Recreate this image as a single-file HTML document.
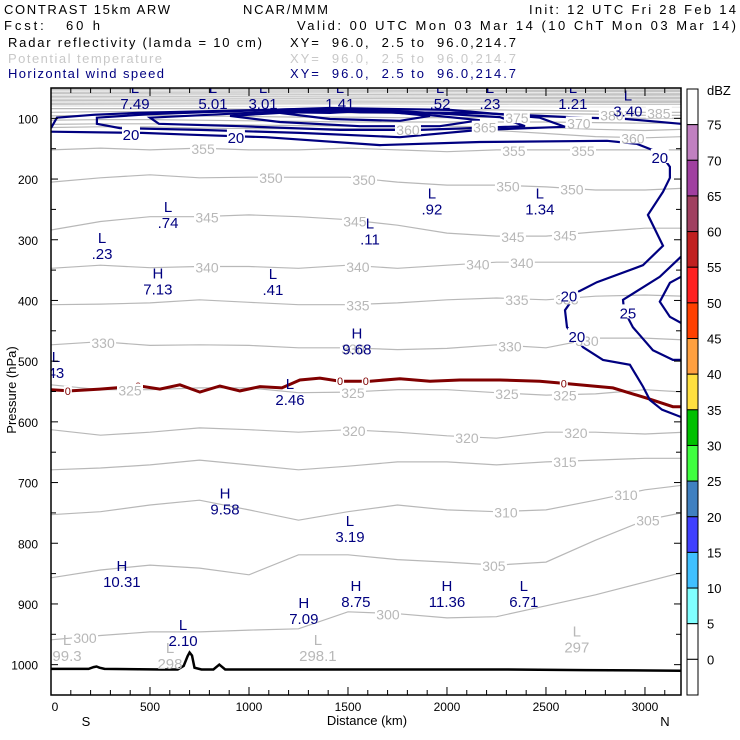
<!DOCTYPE html>
<html><head><meta charset="utf-8"><style>
html,body{margin:0;padding:0;background:#fff}
svg{display:block;font-family:"Liberation Sans",sans-serif}
</style></head><body>
<svg id="chart" width="740" height="740" viewBox="0 0 740 740" xmlns="http://www.w3.org/2000/svg">
<g font-size="13">
<text x="4" y="14" textLength="166">CONTRAST 15km ARW</text>
<text x="243" y="14" textLength="85">NCAR/MMM</text>
<text x="529" y="14" textLength="207">Init: 12 UTC Fri 28 Feb 14</text>
<text x="4" y="30" textLength="96" xml:space="preserve">Fcst:   60 h</text>
<text x="297" y="30" textLength="439">Valid: 00 UTC Mon 03 Mar 14 (10 ChT Mon 03 Mar 14)</text>
<text x="8" y="47" textLength="254">Radar reflectivity (lamda = 10 cm)</text>
<text x="290" y="47" textLength="226" xml:space="preserve">XY=  96.0,  2.5 to  96.0,214.7</text>
<text x="8" y="63" textLength="154" fill="#c8c8c8">Potential temperature</text>
<text x="290" y="63" textLength="226" fill="#c8c8c8" xml:space="preserve">XY=  96.0,  2.5 to  96.0,214.7</text>
<text x="8" y="78" textLength="156" fill="#000080">Horizontal wind speed</text>
<text x="290" y="78" textLength="226" fill="#000080" xml:space="preserve">XY=  96.0,  2.5 to  96.0,214.7</text>
</g>
<defs><clipPath id="plotclip"><rect x="51" y="88" width="630" height="607"/></clipPath></defs>
<g id="plot" clip-path="url(#plotclip)"></g>
<g id="axes"></g>
<g id="cbar"></g>
</svg>
<script>
// ---- data ----
const thetaKm = [0,250,500,750,1000,1250,1500,1750,2000,2250,2500,2750,3000,3200];
const thetaLevels = [300,305,310,315,320,325,330,335,340,345,350,355,360,365,370,375,380,385];
const th300 = [959,952,946,946,943,941,913,916,923,921,903,885,864,847];
const th305 = [857,844,836,841,852,819,819,827,831,836,831,795,762,749];
const th310 = [753,748,737,729,745,762,748,737,745,748,745,729,712,704];
const th315 = [679,676,671,663,671,679,673,666,666,671,666,663,660,660];
const th320 = [613,622,617,610,613,617,613,617,623,627,617,617,620,617];
const th325 = [539,547,547,544,544,552,551,547,547,552,556,554,547,551];
const th330 = [473,468,474,473,474,478,478,481,479,473,478,462,462,465];
const th335 = [407,406,404,399,403,407,407,404,399,396,399,393,391,393];
const th340 = [347,342,346,344,344,347,342,347,342,337,337,337,337,337];
const th345 = [284,270,262,262,259,262,267,276,289,294,294,287,281,281];
const th350 = [205,198,193,198,197,197,197,205,210,210,213,218,218,215];
const th355 = [152,149,152,149,152,152,149,152,155,152,152,152,152,152];
const th360 = [115,114,114,116,117,117,117,117,118,120,125,130,132,130];
const th365 = [110,109,109,110,111,112,113,113,113,114,115,118,120,118];
const th370 = [103,102,102,103,104,105,106,106,106,106,106,107,108,108];
const th375 = [96,95,95,96,97,98,98,99,99,98,98,99,100,100];
const th380 = [90,89,89,90,90,91,91,92,92,92,92,93,95,95];
const th385 = [84,84,84,84,85,85,86,86,86,86,87,88,90,90];
const thetaSeries = [th300,th305,th310,th315,th320,th325,th330,th335,th340,th345,th350,th355,th360,th365,th370,th375,th380,th385];
const upperLevelsP = [80,77,74,71,68,65,62,59,56,53];
const thetaLabelKm = {300:[172,1702],305:[2237,3015],310:[2298,2904],315:[2596],320:[1530,2101,2651],325:[399,1525,2303,2596],330:[263,1525,2318,2707],335:[1550,2353,2606],340:[788,1550,2156,2378],345:[788,1535,2333,2596],350:[1111,1581,2308,2631],355:[768,2338,2687],360:[1803,2939],365:[2191],370:[2666],375:[2353],380:[2833],385:[3070]};
// wind speed contours: [km, hPa]
const windTop20 = [[0,116],[30,99],[222,94],[439,91],[1086,86],[1227,85],[1560,90],[2136,91],[2616,98],[2904,101],[3182,109]];
const windBottom20 = [[0,122],[460,124],[702,127],[1086,131],[1661,144],[2166,139],[2808,137],[2959,142],[3075,157],[3126,180],[3126,198],[3091,221],[3015,259],[3091,310],[2990,342],[2757,370],[2661,386],[2596,416],[2606,444],[2687,477],[2788,498],[2924,506],[2990,542],[3025,564],[3086,580],[3182,592]];
const wind25Right = [[3182,328],[3075,361],[2889,399],[2894,416],[2939,444],[3040,482],[3141,498],[3182,498]];
const wind30Right = [[3182,361],[3126,371],[3075,402],[3126,427],[3182,437]];
const wind25Jet = [[232,99],[500,93],[1106,86],[1409,83],[2015,86],[2469,99],[2596,114],[2166,119],[1762,131],[1257,124],[752,119],[348,116],[232,109]];
const wind30Jet = [[500,99],[1055,90],[1358,85],[1762,88],[2267,98],[2394,113],[1863,119],[1459,119],[954,113],[545,109]];
const wind35Jet = [[904,96],[1207,90],[1510,86],[1863,93],[2166,103],[1964,113],[1560,113],[1156,106]];
const wind40Jet = [[1156,91],[1358,86],[1661,88],[1914,96],[1762,104],[1409,101]];
const wind45Jet = [[1207,90],[1409,85],[1560,88],[1409,91]];
const windLabels = [[20,404,124],[20,934,129],[20,3075,162],[20,2616,390],[20,2656,457],[25,2914,418]];
// freezing level
const frzKm = [0,96,247,449,550,651,752,853,954,1055,1166,1257,1358,1459,1611,1762,1914,2065,2267,2469,2570,2838,3010,3141,3182];
const frzP  = [547,549,546,541,546,539,551,541,549,542,544,531,528,533,533,529,533,531,531,533,536,544,561,575,575];
const frzLabelKm = [85,440,1460,1590,2590];
// terrain
const terrainKm = [0,190,215,230,245,270,560,640,670,690,700,712,725,760,820,850,880,1500,2300,2700,3182];
const terrainP  = [1007,1007,1004,1003,1005,1007,1008,1008,1002,986,980,985,1005,1008,1008,1000,1008,1008,1008,1009,1010];
// extrema labels: [type, value, km, hPa(baseline of value)]
const windExtrema = [["L","7.49",424,85],["L","5.01",818,85],["L","3.01",1071,85],["L","1.41",1459,85],["L",".52",1965,85],["L",".23",2217,85],["L","1.21",2636,85],["L","3.40",2914,97],
["L",".74",591,281],["L",".23",258,332],["H","7.13",540,390],["L",".41",1121,391],["L",".11",1611,308],["L",".92",1924,258],["L","1.34",2469,258],["H","9.68",1545,489],["L","43",25,528],["L","2.46",1207,572],["H","9.58",879,753],["L","3.19",1510,798],["H","10.31",358,872],["H","8.75",1540,905],["H","11.36",2000,905],["L","6.71",2388,905],["H","7.09",1277,933],["L","2.10",667,969]];
const thetaExtrema = [["L","297",2656,980],["L","298.1",1348,994],["L","99.3",81,994],["L","298",601,1007]];
const pTicks = [100,200,300,400,500,600,700,800,900,1000];
const xTicks = [0,500,1000,1500,2000,2500,3000];
const dbzLabels = [75,70,65,60,55,50,45,40,35,30,25,20,15,10,5,0];
const dbzColors = ["#ffffff","#c080c0","#a040a0","#a04060","#c02020","#ff2020","#ff4000","#ffa040","#ffe040","#00c000","#40ff40","#4080c0","#4040ff","#40c0ff","#80ffff","#ffffff","#ffffff"];

// ---- scales ----
const X0=51,X1=681,Y0=88,Y1=695,KMMAX=3182,PTOP=50,PBOT=1050;
const sx = km => X0 + km*(X1-X0)/KMMAX;
const sy = p => Y0 + (p-PTOP)*(Y1-Y0)/(PBOT-PTOP);
const NS="http://www.w3.org/2000/svg";
function mk(tag, parent, attrs){const e=document.createElementNS(NS,tag);for(const k in attrs)e.setAttribute(k,attrs[k]);parent.appendChild(e);return e;}
function interp(xs,ys,x){for(let i=0;i<xs.length-1;i++){if(x>=xs[i]&&x<=xs[i+1]){const t=(x-xs[i])/(xs[i+1]-xs[i]);return ys[i]+t*(ys[i+1]-ys[i]);}}return ys[ys.length-1];}
const plot=document.getElementById('plot'), axes=document.getElementById('axes'), cbar=document.getElementById('cbar');

// top dense band
const band = mk('rect',plot,{x:X0,y:Y0,width:X1-X0,height:sy(78)-Y0,fill:'#c4c4c4'});


upperLevelsP.forEach((p,i)=>{
  const l=mk('line',plot,{x1:X0,x2:X1,y1:sy(p)+(i%2),y2:sy(p)+(i%2?-1:1),stroke:'#e8e8e8','stroke-width':1});
  
  
});
// isentropes
thetaSeries.forEach((arr,i)=>{
  const d=arr.map((p,j)=>(j?'L':'M')+sx(thetaKm[j]).toFixed(1)+','+sy(p).toFixed(1)).join('');
  const path=mk('path',plot,{d,fill:'none',stroke:'#b8b8b8','stroke-width':1.2});
  
  
});
// terrain
{
  const d=terrainKm.map((k,j)=>(j?'L':'M')+sx(k).toFixed(1)+','+sy(terrainP[j]).toFixed(1)).join('');
  const t=mk('path',plot,{d,fill:'none',stroke:'#000','stroke-width':2.5});
  
  
}
// freezing line
{
  const d=frzKm.map((k,j)=>(j?'L':'M')+sx(k).toFixed(1)+','+sy(frzP[j]).toFixed(1)).join('');
  const f=mk('path',plot,{d,fill:'none',stroke:'#800000','stroke-width':3});
  
  
  frzLabelKm.forEach(k=>{
    const x=sx(k),y=sy(interp(frzKm,frzP,k));
    const bg=mk('rect',plot,{x:x-4,y:y-5,width:8,height:10,fill:'#fff'});
    
    
    const tx=mk('text',plot,{x,y:y+4,'text-anchor':'middle','font-size':11,fill:'#800000'});
    tx.textContent='0';
    
    
  });
}
// wind contours
function windPath(pts,closed,name){
  let d=pts.map((q,j)=>(j?'L':'M')+sx(q[0]).toFixed(1)+','+sy(q[1]).toFixed(1)).join('');
  if(closed)d+='Z';
  const w=mk('path',plot,{d,fill:'none',stroke:'#000080','stroke-width':2.2});
  
  
}
windPath(windTop20,false,'wind-contour-20-top');
windPath(windBottom20,false,'wind-contour-20');
windPath(wind25Right,false,'wind-contour-25-right');
windPath(wind30Right,false,'wind-contour-25-right-inner');
windPath(wind25Jet,true,'wind-contour-25-jet');
windPath(wind30Jet,true,'wind-contour-30-jet');
windPath(wind35Jet,true,'wind-contour-35-jet');
windPath(wind40Jet,true,'wind-contour-40-jet');
windPath(wind45Jet,true,'wind-contour-45-jet');
// theta labels
thetaLevels.forEach((lv,i)=>{
  (thetaLabelKm[lv]||[]).forEach(k=>{
    const x=sx(k),y=sy(interp(thetaKm,thetaSeries[i],k));
    const bg=mk('rect',plot,{x:x-13,y:y-6,width:26,height:12,fill:'#fff'});
    
    
    const t=mk('text',plot,{x,y:y+6,'text-anchor':'middle','font-size':14,fill:'#b8b8b8'});
    t.textContent=String(lv);
    
    
  });
});
windLabels.forEach(w=>{
  const x=sx(w[1]),y=sy(w[2]);
  const bg=mk('rect',plot,{x:x-9,y:y-7,width:18,height:14,fill:'#fff'});
  
  
  const t=mk('text',plot,{x,y:y+7,'text-anchor':'middle','font-size':15,fill:'#000080'});
  t.textContent=String(w[0]);
  
  
});
function extremum(e,color,name){
  const x=sx(e[2]),y=sy(e[3]);
  const a=mk('text',plot,{x,y:y-16,'text-anchor':'middle','font-size':15,fill:color});
  a.textContent=e[0];
  
  
  const b=mk('text',plot,{x,y,'text-anchor':'middle','font-size':15,fill:color});
  b.textContent=e[1];
  
  
}
windExtrema.forEach(e=>extremum(e,'#000080','wind-extremum'));
thetaExtrema.forEach(e=>extremum(e,'#b8b8b8','theta-extremum'));

// axes frame
{
  const fr=mk('rect',axes,{x:X0,y:Y0,width:X1-X0,height:Y1-Y0,fill:'none',stroke:'#000','stroke-width':1.5});
  
  
}
for(let p=100;p<=1050;p+=50){
  const len=(p%100===0)?7:5,y=sy(p);
  const a=mk('line',axes,{x1:X0,x2:X0+len,y1:y,y2:y,stroke:'#000'});
  
  
  const b=mk('line',axes,{x1:X1,x2:X1-len,y1:y,y2:y,stroke:'#000'});
  
  
}
pTicks.forEach(p=>{
  const t=mk('text',axes,{x:38,y:sy(p)+5,'text-anchor':'end','font-size':12});
  t.textContent=String(p);
  
  
});
for(let k=100;k<KMMAX;k+=100){
  const len=(k%500===0)?8:5,x=sx(k);
  const a=mk('line',axes,{x1:x,x2:x,y1:Y1,y2:Y1-len,stroke:'#000'});
  
  
  const b=mk('line',axes,{x1:x,x2:x,y1:Y0,y2:Y0+len,stroke:'#000'});
  
  
}
xTicks.forEach(k=>{
  const t=mk('text',axes,{x:sx(k)+(k===0?4:0),y:711,'text-anchor':'middle','font-size':12});
  t.textContent=String(k);
  
  
});
{
  const xt=mk('text',axes,{x:367,y:725,'text-anchor':'middle','font-size':13});
  xt.textContent='Distance (km)';
  
  
  const s=mk('text',axes,{x:86,y:726,'text-anchor':'middle','font-size':13});
  s.textContent='S';
  
  
  const n=mk('text',axes,{x:665,y:726,'text-anchor':'middle','font-size':13});
  n.textContent='N';
  
  
  const yt=mk('text',axes,{x:0,y:0,'text-anchor':'middle','font-size':13,transform:'translate(16,390) rotate(-90)'});
  yt.textContent='Pressure (hPa)';
  
  
}
// colorbar
{
  const cx=687,cw=11,ctop=89,cbot=695,n=dbzColors.length,h=(cbot-ctop)/n;
  dbzColors.forEach((c,i)=>{
    const r=mk('rect',cbar,{x:cx,y:ctop+i*h,width:cw,height:h,fill:c,stroke:'#000','stroke-width':1});
    
    
  });
  dbzLabels.forEach((v,i)=>{
    const t=mk('text',cbar,{x:707,y:ctop+(i+1)*h+5,'font-size':13});
    t.textContent=String(v);
    
    
  });
  const u=mk('text',cbar,{x:707,y:95,'font-size':13});
  u.textContent='dBZ';
  
  
}
</script>
</body></html>
